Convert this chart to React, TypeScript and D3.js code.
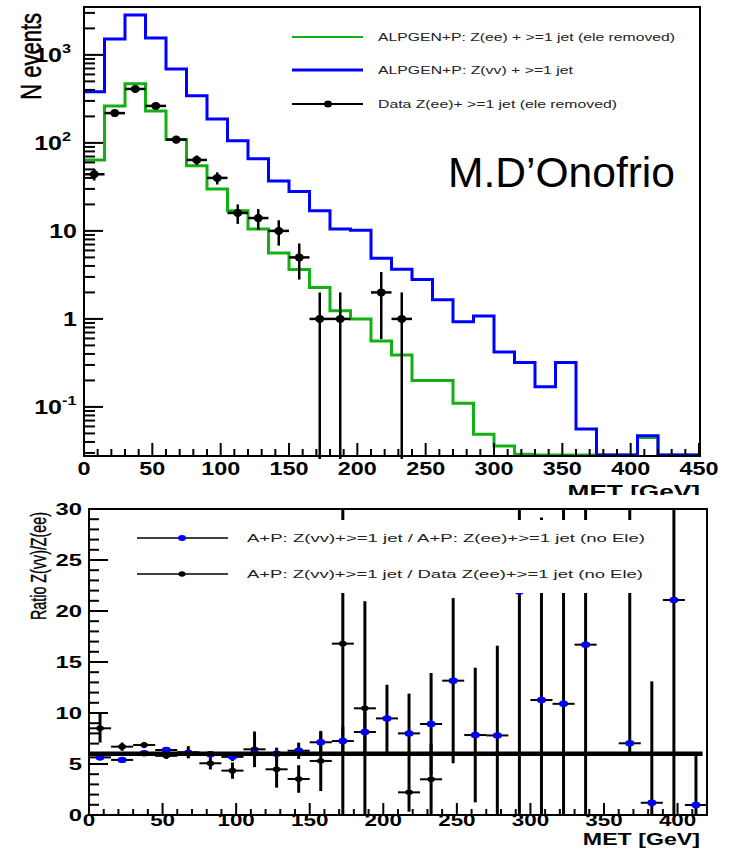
import React from 'react';
import * as d3 from 'd3';

// ---------- data ----------
const BIN_EDGES = [0, 15, 30, 45, 60, 75, 90, 105, 120, 135, 150, 165, 180, 195, 210, 225, 240, 255, 270, 285, 300, 315, 330, 345, 360, 375, 390, 405, 420, 435, 450];
const ZVV_MC = [380, 1520, 2840, 1560, 690, 343, 187, 106, 66, 37, 28, 17, 10.5, 10.2, 4.9, 3.66, 2.8, 1.65, 0.93, 1.08, 0.42, 0.32, 0.17, 0.32, 0.056, 0, 0, 0.047, 0, 0];
const ZEE_MC = [64, 263, 470, 231, 109, 55, 30, 17, 10.5, 5.6, 3.65, 2.27, 1.24, 1.0, 0.56, 0.39, 0.2, 0.2, 0.11, 0.049, 0.036, 0.029, 0.01, 0.01, 0.01, 0, 0, 0.045, 0, 0];
const DATA_X = [7.5, 22.5, 37.5, 52.5, 67.5, 82.5, 97.5, 112.5, 127.5, 142.5, 157.5, 172.5, 187.5, 217.5, 232.5];
const DATA_Y = [44, 218, 410, 263, 109, 64, 40, 16, 14, 10, 5, 1, 1, 2, 1];
const DATA_ERR = [6.6, 14.8, 20.2, 16.2, 10.4, 8, 6.3, 4, 3.7, 3.2, 2.2, 1, 1, 1.41, 1];

const RB_X = [7.5, 22.5, 37.5, 52.5, 67.5, 82.5, 97.5, 112.5, 127.5, 142.5, 157.5, 172.5, 187.5, 202.5, 217.5, 232.5, 247.5, 262.5, 277.5, 292.5, 307.5, 322.5, 337.5, 367.5, 382.5, 397.5, 412.5];
const RB_Y = [5.65, 5.4, 6.05, 6.37, 6.05, 5.95, 5.7, 6.05, 6.0, 6.3, 7.13, 7.25, 8.14, 9.47, 8.0, 8.92, 13.17, 7.84, 7.8, 21.9, 11.27, 10.9, 16.7, 7.03, 1.2, 21.08, 0.98];
const RB_ERR_LO = [0.3, 0.2, 0.2, 0.2, 0.3, 0.3, 0.4, 0.5, 0.6, 0.8, 1.0, 1.4, 2.0, 3.3, 3.9, 5.0, 8.1, 6.6, 8.8, 25, 17.9, 22, 20, 1.0, 11.9, 25, 4.9];
const RB_ERR_HI = [0.3, 0.2, 0.2, 0.2, 0.3, 0.3, 0.4, 0.5, 0.6, 0.8, 1.0, 1.4, 2.0, 3.3, 3.9, 5.0, 8.1, 6.6, 8.8, 25, 17.9, 22, 20, 25, 11.9, 25, 4.9];

const RK_X = [7.5, 22.5, 37.5, 52.5, 67.5, 82.5, 97.5, 112.5, 127.5, 142.5, 157.5, 172.5, 187.5, 217.5, 232.5];
const RK_Y = [8.5, 6.7, 6.86, 5.8, 6.15, 5.07, 4.35, 6.44, 4.48, 3.53, 5.3, 16.8, 10.46, 2.22, 3.5];
const RK_ERR = [1.4, 0.4, 0.3, 0.3, 0.6, 0.6, 0.8, 1.75, 1.8, 1.35, 2.95, 16.8, 10.5, 1.9, 3.5];

const REF_RATIO = 6;
const HALF_BIN = 7.5;

const TOP_X_TICKS = [0, 50, 100, 150, 200, 250, 300, 350, 400, 450];
const TOP_Y_TICKS = [0.1, 1, 10, 100, 1000];
const TOP_Y_LABELS = [['10', '-1'], ['1', ''], ['10', ''], ['10', '2'], ['10', '3']];
const BOT_X_TICKS = [0, 50, 100, 150, 200, 250, 300, 350, 400];
const BOT_Y_TICKS = [0, 5, 10, 15, 20, 25, 30];

const LEG_TOP = [
  'ALPGEN+P: Z(ee) + >=1 jet (ele removed)',
  'ALPGEN+P: Z(vv) + >=1 jet',
  'Data Z(ee)+ >=1 jet (ele removed)',
];
const LEG_BOT = [
  'A+P: Z(vv)+>=1 jet / A+P: Z(ee)+>=1 jet (no Ele)',
  'A+P: Z(vv)+>=1 jet / Data Z(ee)+>=1 jet (no Ele)',
];

const FONT = '"Liberation Sans", Arial, Helvetica, sans-serif';
const GREEN = '#12b012';
const BLUE = '#0000ff';

export default function App() {
  const xT = d3.scaleLinear().domain([0, 450]).range([84, 699]);
  const yMin = 0.0277;
  const yT = d3.scaleLog().domain([yMin, 3500]).range([456, 7]);
  const xB = d3.scaleLinear().domain([0, 420]).range([89, 707]);
  const yB = d3.scaleLinear().domain([0, 30]).range([815, 509]);

  const stepPath = (vals: number[]) => {
    const pts: [number, number][] = vals.map((v, i) => [BIN_EDGES[i], v]);
    pts.push([BIN_EDGES[vals.length], vals[vals.length - 1]]);
    return d3
      .line<[number, number]>()
      .x((d) => xT(d[0]))
      .y((d) => Math.min(yT(Math.max(d[1], yMin)), 455))
      .curve(d3.curveStepAfter)(pts) as string;
  };

  const topMinorX = d3.range(0, 451, 10).filter((v) => v % 50 !== 0);
  const topMinorY: number[] = [];
  [0.01, 0.1, 1, 10, 100, 1000].forEach((d) => {
    for (let k = 2; k <= 9; k++) {
      const v = d * k;
      if (v >= yMin && v <= 3500) topMinorY.push(v);
    }
  });
  const botMinorX = d3.range(0, 421, 10).filter((v) => v % 50 !== 0);
  const botMinorY = d3.range(0, 31, 1).filter((v) => v % 5 !== 0);

  return (
    <svg width={729} height={848} style={{ position: 'absolute', left: 0, top: 0, background: '#fff' }} fontFamily={FONT}>
      <defs>
        <clipPath id="clipTop">
          <rect x={84} y={7} width={616} height={452} />
        </clipPath>
        <clipPath id="clipBot">
          <rect x={89} y={509} width={618} height={306} />
        </clipPath>
      </defs>
      <rect x={0} y={0} width={729} height={848} fill="#fff" />

      {/* ================= TOP PANEL ================= */}
      <g clipPath="url(#clipTop)">
        <path d={stepPath(ZEE_MC)} fill="none" stroke={GREEN} strokeWidth={3} />
        <path d={stepPath(ZVV_MC)} fill="none" stroke={BLUE} strokeWidth={3} />
        {DATA_X.map((x, i) => {
          const y = DATA_Y[i];
          const lo = y - DATA_ERR[i];
          const yLo = lo > yMin ? yT(lo) : 460;
          return (
            <g key={i} stroke="#000" strokeWidth={2.5}>
              <line x1={xT(x)} x2={xT(x)} y1={yT(y + DATA_ERR[i])} y2={yLo} />
              <line x1={xT(x - HALF_BIN)} x2={xT(x + HALF_BIN)} y1={yT(y)} y2={yT(y)} />
              <ellipse cx={xT(x)} cy={yT(y)} rx={4.5} ry={4} fill="#000" stroke="none" />
            </g>
          );
        })}
      </g>
      {/* frame */}
      <rect x={84} y={7} width={616} height={449} fill="none" stroke="#000" strokeWidth={2} />
      {/* x ticks */}
      {TOP_X_TICKS.map((t) => (
        <line key={'tx' + t} x1={xT(t)} x2={xT(t)} y1={456} y2={443} stroke="#000" strokeWidth={2} />
      ))}
      {topMinorX.map((t) => (
        <line key={'tmx' + t} x1={xT(t)} x2={xT(t)} y1={456} y2={449} stroke="#000" strokeWidth={2} />
      ))}
      {TOP_Y_TICKS.map((t) => (
        <line key={'ty' + t} x1={84} x2={103} y1={yT(t)} y2={yT(t)} stroke="#000" strokeWidth={2} />
      ))}
      {topMinorY.map((t) => (
        <line key={'tmy' + t} x1={84} x2={95} y1={yT(t)} y2={yT(t)} stroke="#000" strokeWidth={2} />
      ))}
      {/* x labels */}
      {TOP_X_TICKS.map((t) => (
        <text key={'txl' + t} transform={`translate(${xT(t)},475) scale(1.3,1)`} textAnchor="middle" fontSize={18} fontWeight="bold">
          {t}
        </text>
      ))}
      {/* y labels */}
      {TOP_Y_TICKS.map((t, i) => {
        const [base, sup] = TOP_Y_LABELS[i];
        const y = yT(t) + 7;
        if (sup) {
          return (
            <g key={'tyl' + t}>
              <text transform={`translate(62,${y}) scale(1.25,1)`} textAnchor="end" fontSize={20} fontWeight="bold">
                {base}
              </text>
              <text transform={`translate(62,${y - 9}) scale(1.25,1)`} textAnchor="start" fontSize={13} fontWeight="bold">
                {sup}
              </text>
            </g>
          );
        }
        return (
          <text key={'tyl' + t} transform={`translate(77,${y}) scale(1.25,1)`} textAnchor="end" fontSize={20} fontWeight="bold">
            {base}
          </text>
        );
      })}
      {/* axis titles */}
      <text transform="translate(41,13) rotate(-90) scale(1,1.3)" textAnchor="end" fontSize={22} stroke="#000" strokeWidth={0.4}>
        N events
      </text>
      <text transform="translate(700,498) scale(1.38,1)" textAnchor="end" fontSize={19} fontWeight="bold">
        MET [GeV]
      </text>
      {/* legend */}
      <g>
        <line x1={292} x2={363} y1={37} y2={37} stroke={GREEN} strokeWidth={2} />
        <line x1={292} x2={363} y1={70} y2={70} stroke={BLUE} strokeWidth={3} />
        <line x1={292} x2={363} y1={104} y2={104} stroke="#000" strokeWidth={2} />
        <ellipse cx={328} cy={104} rx={4} ry={3.5} fill="#000" />
        {LEG_TOP.map((s, i) => (
          <text key={s} x={378} y={[41, 74, 108][i]} fontSize={11.5} fill="#222" textLength={[297, 195, 239][i]} lengthAdjust="spacingAndGlyphs">
            {s}
          </text>
        ))}
      </g>
      <text x={448} y={187} fontSize={42} textLength={227} lengthAdjust="spacingAndGlyphs">
        M.D’Onofrio
      </text>

      {/* ================= BOTTOM PANEL ================= */}
      <rect x={0} y={495} width={729} height={353} fill="#fff" />
      <g clipPath="url(#clipBot)">
        {/* black data-ratio */}
        {RK_X.map((x, i) => (
          <g key={'k' + i} stroke="#000">
            <line x1={xB(x)} x2={xB(x)} y1={yB(RK_Y[i] + RK_ERR[i])} y2={yB(Math.max(RK_Y[i] - RK_ERR[i], -0.5))} strokeWidth={3} />
            <line x1={xB(x - HALF_BIN)} x2={xB(x + HALF_BIN)} y1={yB(RK_Y[i])} y2={yB(RK_Y[i])} strokeWidth={2} />
            <ellipse cx={xB(x)} cy={yB(RK_Y[i])} rx={3.8} ry={2.8} fill="#000" stroke="none" />
          </g>
        ))}
        {/* blue MC ratio */}
        {RB_X.map((x, i) => (
          <g key={'b' + i} stroke="#000">
            <line x1={xB(x)} x2={xB(x)} y1={yB(RB_Y[i] + RB_ERR_HI[i])} y2={yB(Math.max(RB_Y[i] - RB_ERR_LO[i], -0.5))} strokeWidth={3} />
            <line x1={xB(x - HALF_BIN)} x2={xB(x + HALF_BIN)} y1={yB(RB_Y[i])} y2={yB(RB_Y[i])} strokeWidth={2} />
            <ellipse cx={xB(x)} cy={yB(RB_Y[i])} rx={4.5} ry={3.2} fill={BLUE} stroke="none" />
          </g>
        ))}
        <line x1={xB(0)} x2={xB(417)} y1={yB(REF_RATIO)} y2={yB(REF_RATIO)} stroke="#000" strokeWidth={4.5} />
      </g>
      {/* legend box (opaque) */}
      <rect x={125} y={520} width={535} height={73} fill="#fff" />
      <line x1={137} x2={228} y1={538} y2={538} stroke="#000" strokeWidth={1.5} />
      <ellipse cx={182} cy={538} rx={4} ry={3} fill={BLUE} />
      <line x1={137} x2={228} y1={574} y2={574} stroke="#000" strokeWidth={1.5} />
      <ellipse cx={182} cy={574} rx={3.5} ry={2.7} fill="#000" />
      {LEG_BOT.map((s, i) => (
        <text key={s} x={247} y={[542, 578][i]} fontSize={11} fill="#222" textLength={[398, 396][i]} lengthAdjust="spacingAndGlyphs">
          {s}
        </text>
      ))}
      {/* frame */}
      <rect x={89} y={509} width={618} height={306} fill="none" stroke="#000" strokeWidth={2} />
      {BOT_X_TICKS.map((t) => (
        <line key={'bx' + t} x1={xB(t)} x2={xB(t)} y1={815} y2={803} stroke="#000" strokeWidth={2} />
      ))}
      {botMinorX.map((t) => (
        <line key={'bmx' + t} x1={xB(t)} x2={xB(t)} y1={815} y2={809} stroke="#000" strokeWidth={2} />
      ))}
      {BOT_Y_TICKS.map((t) => (
        <line key={'by' + t} x1={89} x2={108} y1={yB(t)} y2={yB(t)} stroke="#000" strokeWidth={2} />
      ))}
      {botMinorY.map((t) => (
        <line key={'bmy' + t} x1={89} x2={99} y1={yB(t)} y2={yB(t)} stroke="#000" strokeWidth={2} />
      ))}
      {BOT_X_TICKS.map((t) => (
        <text key={'bxl' + t} transform={`translate(${xB(t)},826) scale(1.4,1)`} textAnchor="middle" fontSize={16} fontWeight="bold">
          {t}
        </text>
      ))}
      {BOT_Y_TICKS.map((t) => (
        <text key={'byl' + t} transform={`translate(82,${yB(t) + 6}) scale(1.4,1)`} textAnchor="end" fontSize={17} fontWeight="bold">
          {t}
        </text>
      ))}
      <text transform="translate(46,512) rotate(-90) scale(1,1.25)" textAnchor="end" fontSize={17} textLength={108} lengthAdjust="spacingAndGlyphs" stroke="#000" strokeWidth={0.3}>
        Ratio Z(vv)/Z(ee)
      </text>
      <text transform="translate(700,845) scale(1.45,1)" textAnchor="end" fontSize={16} fontWeight="bold">
        MET [GeV]
      </text>
    </svg>
  );
}
